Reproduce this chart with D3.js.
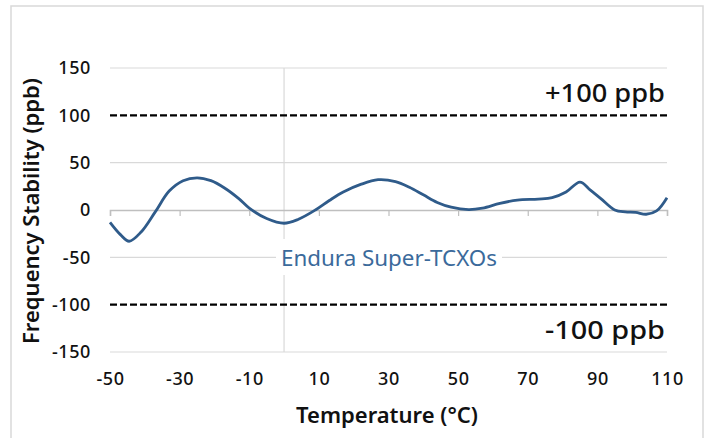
<!DOCTYPE html>
<html><head><meta charset="utf-8">
<script src="https://cdn.jsdelivr.net/npm/d3@7"></script>
<style>body{margin:0;background:#fff}svg{display:block}text{font-family:"Noto Sans","Open Sans",sans-serif}</style>
</head><body>
<svg id="c" width="708" height="438"></svg>
<script>
const temps = [-50,-47,-44.5,-41,-37,-33,-29,-25,-21,-17,-13,-10,-5,0,4,9,13,17,22,27,32,36,40,44,48,53,57,62,67,73,77,81,85,88,91,95,98,101,104,107,110];
const stability = [-13,-26,-33,-23,-2,20,31,34,31,23,12,2,-9,-14,-10,0,10,19,27,32,30,24,16,8,3,0.5,2,7,10.5,11.5,13,19,29.5,21,12,0,-2,-2.5,-4.5,-1,13];
const xTicks = [-50,-30,-10,10,30,50,70,90,110];
const yTicks = [-150,-100,-50,0,50,100,150];
const gridY = [150,50,-50,-150];
const limits = [100,-100];
const limitLabels = ["+100 ppb","-100 ppb"];
const seriesLabel = "Endura Super-TCXOs";

const svg = d3.select("#c");
const x = d3.scaleLinear().domain([-50,110]).range([110,667]);
const y = d3.scaleLinear().domain([-150,150]).range([352,68]);
const fmt = d => String(d);

svg.append("rect").attr("x",11).attr("y",6).attr("width",692).attr("height",440)
  .attr("fill","none").attr("stroke","#d9d9d9").attr("stroke-width",1.5);

// gridlines
svg.append("g").selectAll("line").data(gridY).join("line")
  .attr("x1",x(-50)).attr("x2",x(110)).attr("y1",d=>y(d)).attr("y2",d=>y(d))
  .attr("stroke","#d9d9d9").attr("stroke-width",1.2);
svg.append("line").attr("x1",x(0)).attr("x2",x(0)).attr("y1",y(150)).attr("y2",y(-150))
  .attr("stroke","#d9d9d9").attr("stroke-width",1.2);

// zero axis
const gx = svg.append("g").attr("transform",`translate(0,${y(0)})`)
  .call(d3.axisBottom(x).tickValues(xTicks).tickSize(6).tickFormat(""));
gx.select(".domain").attr("stroke","#bfbfbf").attr("stroke-width",1.5);
gx.selectAll(".tick line").attr("stroke","#bfbfbf").attr("stroke-width",1.2);

// limit lines
svg.append("g").selectAll("line").data(limits).join("line")
  .attr("x1",x(-50)).attr("x2",x(110)).attr("y1",d=>y(d)).attr("y2",d=>y(d))
  .attr("stroke","#000").attr("stroke-width",2.4).attr("stroke-dasharray","7,3");

// annotation label with background
const ann = svg.append("g");
ann.append("rect").attr("x",276).attr("y",239).attr("width",226).attr("height",36).attr("fill","#fff");
ann.append("text").attr("x",389).attr("y",266).attr("text-anchor","middle")
  .attr("font-size",22.5).attr("fill","#3b6a9b")
  .attr("textLength",216).attr("lengthAdjust","spacingAndGlyphs").text(seriesLabel);

// limit labels
const lab = svg.append("g");
lab.append("rect").attr("x",540).attr("y",316).attr("width",128).attr("height",30).attr("fill","#fff");
limitLabels.forEach((t,i)=>{
  lab.append("text").attr("x",665).attr("y",i===0?102:339).attr("text-anchor","end")
    .attr("font-size",25).attr("font-weight",500).attr("fill","#111")
    .attr("textLength",120).attr("lengthAdjust","spacingAndGlyphs").text(t);
});

// series line
const line = d3.line().x((d,i)=>x(temps[i])).y(d=>y(d)).curve(d3.curveCatmullRom.alpha(0.5));
svg.append("path").datum(stability).attr("d",line).attr("fill","none")
  .attr("stroke","#2f5b8a").attr("stroke-width",2.8).attr("stroke-linejoin","round");

// tick labels
const gy = svg.append("g").attr("transform","translate(91,0)")
  .call(d3.axisLeft(y).tickValues(yTicks).tickSize(0).tickPadding(0).tickFormat(fmt));
gy.select(".domain").remove();
gy.selectAll("text").attr("font-size",18).attr("font-weight",500).attr("fill","#111")
  .attr("font-family","Noto Sans, sans-serif").attr("letter-spacing",0.6);

const gxl = svg.append("g").attr("transform","translate(0,372)")
  .call(d3.axisBottom(x).tickValues(xTicks).tickSize(0).tickPadding(0).tickFormat(fmt));
gxl.select(".domain").remove();
gxl.selectAll("text").attr("font-size",18).attr("font-weight",500).attr("fill","#111")
  .attr("font-family","Noto Sans, sans-serif").attr("letter-spacing",0.6);

svg.append("text").attr("x",387).attr("y",423).attr("text-anchor","middle")
  .attr("font-size",22).attr("font-weight",600).attr("fill","#111").text("Temperature (°C)");
svg.append("text").attr("transform","translate(39,211) rotate(-90)").attr("text-anchor","middle")
  .attr("font-size",22).attr("font-weight",600).attr("fill","#111").text("Frequency Stability (ppb)");
</script>
</body></html>
